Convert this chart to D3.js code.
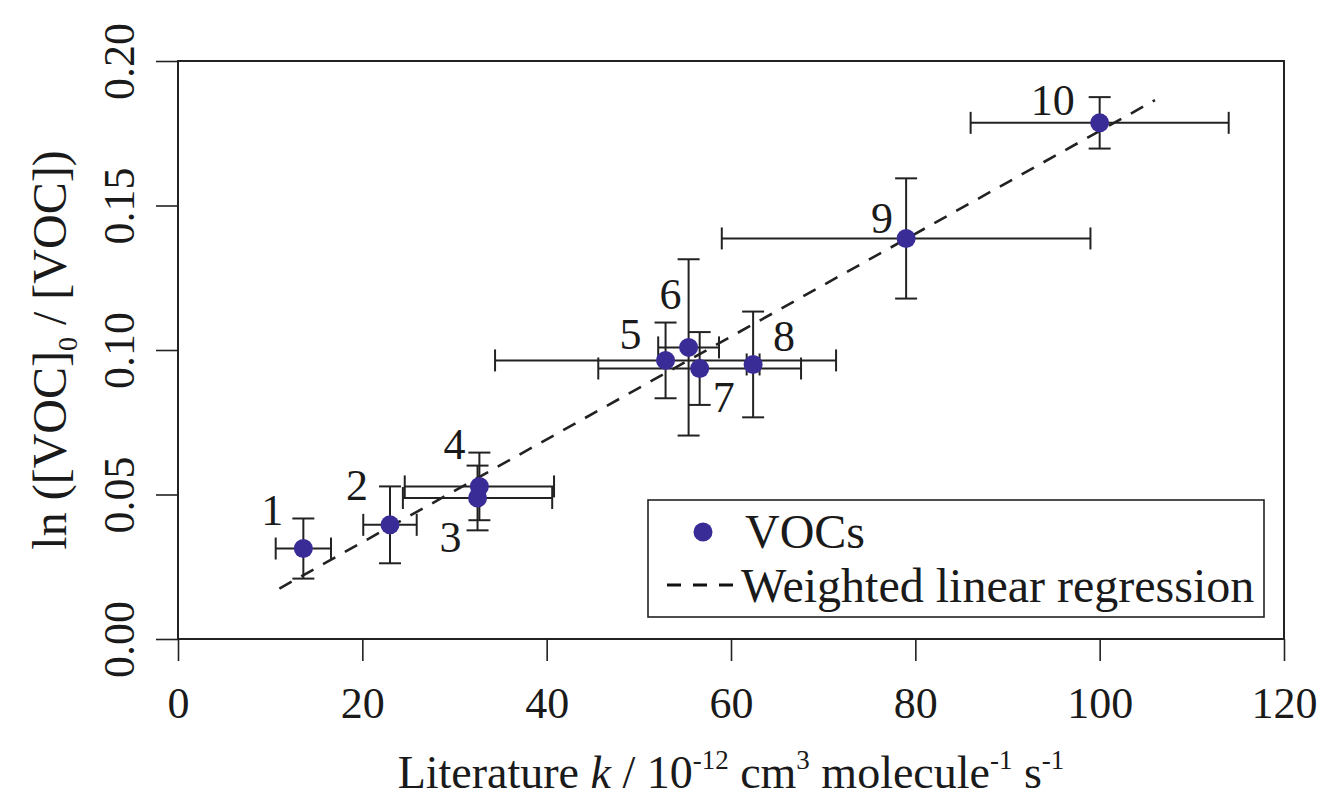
<!DOCTYPE html>
<html>
<head>
<meta charset="utf-8">
<script src="https://cdn.jsdelivr.net/npm/d3@7"></script>
<style>
  body { margin: 0; background: #fff; }
  text { font-family: "Liberation Serif", "Times New Roman", serif; fill: #1a1a1a; }
</style>
</head>
<body>
<div class="chart"></div>
<script>
// data
var labels = ["1", "2", "3", "4", "5", "6", "7", "8", "9", "10"];
var kLit   = [13.6, 23.0, 32.5, 32.7, 52.9, 55.4, 56.6, 62.4, 79.0, 100.0];
var kErr   = [3.0, 2.9, 8.1, 8.1, 18.5, 3.3, 11.0, 0.7, 20.0, 14.0];
var lnRat  = [0.0313, 0.0395, 0.0488, 0.0528, 0.0964, 0.1009, 0.0936, 0.0950, 0.1386, 0.1786];
var lnErr  = [0.0104, 0.0133, 0.0112, 0.0117, 0.0131, 0.0305, 0.0126, 0.0183, 0.0208, 0.0089];
// weighted regression y = a + b*x, drawn over this x span
var fitA = -0.0021, fitB = 0.001779;
var fitRange = [11.0, 106.0];
var xTicks = [0, 20, 40, 60, 80, 100, 120];
var yTicks = [0.00, 0.05, 0.10, 0.15, 0.20];

// layout: nudge (px) of each number label from its point, and its anchor
var labelNudge = [[-20, -24], [-22, -25], [-16, 54], [-14, -27], [-24, -11],
                  [-7, -38], [13, 44], [20, -13], [-13, -5], [-25, -8]];
var labelAnchor = ["end", "end", "end", "end", "end", "end", "start", "start", "end", "end"];

var width = 1323, height = 802;
var margin = {top: 61, right: 39, bottom: 163, left: 178};

var svg = d3.select(".chart")
  .append("svg")
  .attr("width", width)
  .attr("height", height);

var x = d3.scaleLinear().domain([0, 120]).range([margin.left, width - margin.right]);
var y = d3.scaleLinear().domain([0, 0.2]).range([height - margin.bottom, margin.top]);

var ink = "#222";
var dotColor = "#3a2c96";

// frame
svg.append("rect")
  .attr("x", x(0)).attr("y", y(0.2))
  .attr("width", x(120) - x(0)).attr("height", y(0) - y(0.2))
  .attr("fill", "none").attr("stroke", ink).attr("stroke-width", 2);

// axes
var xAxis = svg.append("g")
  .attr("transform", "translate(0," + y(0) + ")")
  .call(d3.axisBottom(x).tickValues(xTicks).tickSize(22).tickPadding(26).tickFormat(d3.format("d")));
xAxis.select(".domain").remove();
xAxis.selectAll("line").attr("stroke", ink).attr("stroke-width", 1.6);
xAxis.selectAll("text").attr("font-size", 44).attr("font-family", "Liberation Serif").attr("fill", "#1a1a1a");

var yAxis = svg.append("g")
  .attr("transform", "translate(" + x(0) + ",0)")
  .call(d3.axisLeft(y).tickValues(yTicks).tickSize(22).tickFormat(d3.format(".2f")));
yAxis.select(".domain").remove();
yAxis.selectAll("line").attr("stroke", ink).attr("stroke-width", 1.6);
yAxis.selectAll("text")
  .attr("font-size", 44).attr("font-family", "Liberation Serif").attr("fill", "#1a1a1a")
  .attr("x", null).attr("dy", null)
  .attr("text-anchor", "middle")
  .attr("transform", "translate(-44,0) rotate(-90)");

// axis titles
var xt = svg.append("text")
  .attr("x", (x(0) + x(120)) / 2) .attr("y", 788)
  .attr("text-anchor", "middle").attr("font-size", 46);
xt.append("tspan").text("Literature ");
xt.append("tspan").attr("font-style", "italic").text("k");
xt.append("tspan").text(" / 10");
xt.append("tspan").attr("font-size", 27).attr("dy", -19).text("-12");
xt.append("tspan").attr("dy", 19).text(" cm");
xt.append("tspan").attr("font-size", 27).attr("dy", -19).text("3");
xt.append("tspan").attr("dy", 19).text(" molecule");
xt.append("tspan").attr("font-size", 27).attr("dy", -19).text("-1");
xt.append("tspan").attr("dy", 19).text(" s");
xt.append("tspan").attr("font-size", 27).attr("dy", -19).text("-1");

var yt = svg.append("text")
  .attr("transform", "translate(66," + y(0.1) + ") rotate(-90)")
  .attr("text-anchor", "middle").attr("font-size", 48);
yt.append("tspan").text("ln ([VOC]");
yt.append("tspan").attr("font-size", 28).attr("dy", 11).text("0");
yt.append("tspan").attr("dy", -11).text(" / [VOC])");

// regression line
svg.append("line")
  .attr("x1", x(fitRange[0])).attr("y1", y(fitA + fitB * fitRange[0]))
  .attr("x2", x(fitRange[1])).attr("y2", y(fitA + fitB * fitRange[1]))
  .attr("stroke", ink).attr("stroke-width", 2.6)
  .attr("stroke-dasharray", "14,11");

var pts = labels.map(function (l, i) {
  return {label: l, x: kLit[i], xe: kErr[i], y: lnRat[i], ye: lnErr[i],
          nudge: labelNudge[i], anchor: labelAnchor[i]};
});

var cap = 11;
var bars = svg.append("g").attr("stroke", ink).attr("stroke-width", 2).attr("fill", "none");
pts.forEach(function (d) {
  var g = bars.append("g");
  // horizontal error
  g.append("line").attr("x1", x(d.x - d.xe)).attr("x2", x(d.x + d.xe)).attr("y1", y(d.y)).attr("y2", y(d.y));
  g.append("line").attr("x1", x(d.x - d.xe)).attr("x2", x(d.x - d.xe)).attr("y1", y(d.y) - cap).attr("y2", y(d.y) + cap);
  g.append("line").attr("x1", x(d.x + d.xe)).attr("x2", x(d.x + d.xe)).attr("y1", y(d.y) - cap).attr("y2", y(d.y) + cap);
  // vertical error
  g.append("line").attr("x1", x(d.x)).attr("x2", x(d.x)).attr("y1", y(d.y - d.ye)).attr("y2", y(d.y + d.ye));
  g.append("line").attr("x1", x(d.x) - cap).attr("x2", x(d.x) + cap).attr("y1", y(d.y - d.ye)).attr("y2", y(d.y - d.ye));
  g.append("line").attr("x1", x(d.x) - cap).attr("x2", x(d.x) + cap).attr("y1", y(d.y + d.ye)).attr("y2", y(d.y + d.ye));
});

svg.append("g").selectAll("circle")
  .data(pts)
  .enter().append("circle")
  .attr("cx", function (d) { return x(d.x); })
  .attr("cy", function (d) { return y(d.y); })
  .attr("r", 9.5)
  .attr("fill", dotColor);

svg.append("g").selectAll("text")
  .data(pts)
  .enter().append("text")
  .attr("x", function (d) { return x(d.x) + d.nudge[0]; })
  .attr("y", function (d) { return y(d.y) + d.nudge[1]; })
  .attr("text-anchor", function (d) { return d.anchor; })
  .attr("font-size", 44)
  .text(function (d) { return d.label; });

// legend
var lg = svg.append("g").attr("transform", "translate(648,500)");
lg.append("rect").attr("width", 616).attr("height", 117)
  .attr("fill", "#fff").attr("stroke", ink).attr("stroke-width", 1.6);
lg.append("circle").attr("cx", 55).attr("cy", 32).attr("r", 9.5).attr("fill", dotColor);
lg.append("text").attr("x", 97).attr("y", 48).attr("font-size", 48).text("VOCs");
lg.append("line").attr("x1", 19).attr("x2", 85).attr("y1", 85).attr("y2", 85)
  .attr("stroke", "#111").attr("stroke-width", 3.2).attr("stroke-dasharray", "14,12");
lg.append("text").attr("x", 93).attr("y", 102).attr("font-size", 48).text("Weighted linear regression");
</script>
</body>
</html>
